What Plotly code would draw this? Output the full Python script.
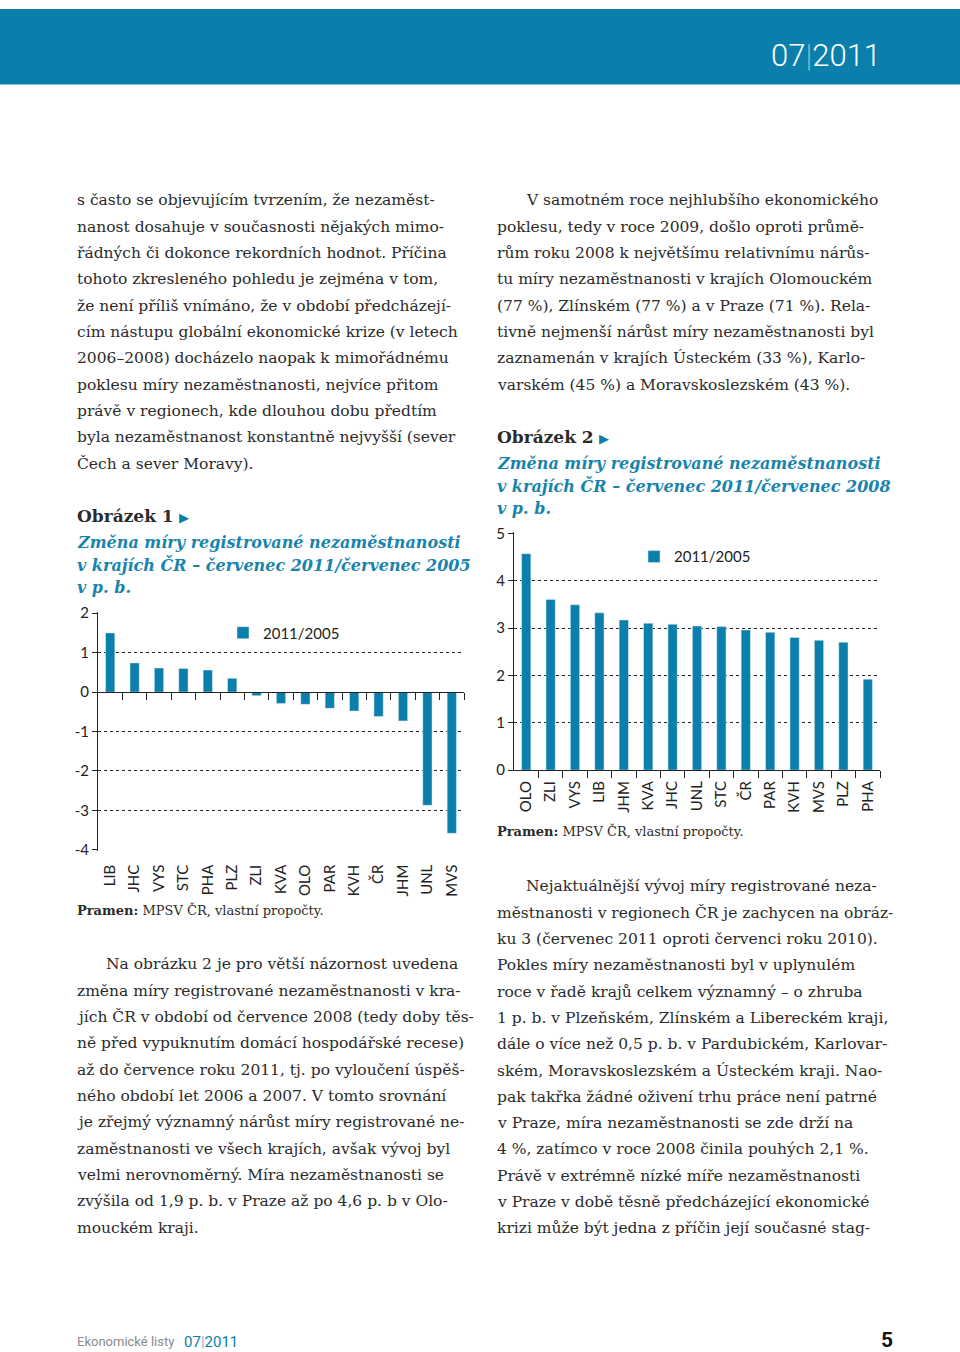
import plotly.graph_objects as go

W, H = 960, 1352

# ---------------- data ----------------
cats1 = ["LIB", "JHC", "VYS", "STC", "PHA", "PLZ", "ZLI", "KVA", "OLO", "PAR", "KVH", "ČR", "JHM", "UNL", "MVS"]
vals1 = [1.50, 0.74, 0.61, 0.60, 0.56, 0.35, -0.09, -0.29, -0.31, -0.41, -0.48, -0.62, -0.73, -2.87, -3.58]
cats2 = ["OLO", "ZLI", "VYS", "LIB", "JHM", "KVA", "JHC", "UNL", "STC", "ČR", "PAR", "KVH", "MVS", "PLZ", "PHA"]
vals2 = [4.57, 3.60, 3.49, 3.32, 3.17, 3.10, 3.08, 3.04, 3.03, 2.96, 2.91, 2.80, 2.74, 2.70, 1.92]
series_name = "2011/2005"
yticks1 = [-4, -3, -2, -1, 0, 1, 2]
yticks2 = [0, 1, 2, 3, 4, 5]

left_par1 = [
    "s často se objevujícím tvrzením, že nezaměst-",
    "nanost dosahuje v současnosti nějakých mimo-",
    "řádných či dokonce rekordních hodnot. Příčina",
    "tohoto zkresleného pohledu je zejména v tom,",
    "že není příliš vnímáno, že v období předcházejí-",
    "cím nástupu globální ekonomické krize (v letech",
    "2006–2008) docházelo naopak k mimořádnému",
    "poklesu míry nezaměstnanosti, nejvíce přitom",
    "právě v regionech, kde dlouhou dobu předtím",
    "byla nezaměstnanost konstantně nejvyšší (sever",
    "Čech a sever Moravy).",
]
left_par2 = [
    "Na obrázku 2 je pro větší názornost uvedena",
    "změna míry registrované nezaměstnanosti v kra-",
    "jích ČR v období od července 2008 (tedy doby těs-",
    "ně před vypuknutím domácí hospodářské recese)",
    "až do července roku 2011, tj. po vyloučení úspěš-",
    "ného období let 2006 a 2007. V tomto srovnání",
    "je zřejmý významný nárůst míry registrované ne-",
    "zaměstnanosti ve všech krajích, avšak vývoj byl",
    "velmi nerovnoměrný. Míra nezaměstnanosti se",
    "zvýšila od 1,9 p. b. v Praze až po 4,6 p. b v Olo-",
    "mouckém kraji.",
]
right_par1 = [
    "V samotném roce nejhlubšího ekonomického",
    "poklesu, tedy v roce 2009, došlo oproti průmě-",
    "rům roku 2008 k největšímu relativnímu nárůs-",
    "tu míry nezaměstnanosti v krajích Olomouckém",
    "(77 %), Zlínském (77 %) a v Praze (71 %). Rela-",
    "tivně nejmenší nárůst míry nezaměstnanosti byl",
    "zaznamenán v krajích Ústeckém (33 %), Karlo-",
    "varském (45 %) a Moravskoslezském (43 %).",
]
right_par2 = [
    "Nejaktuálnější vývoj míry registrované neza-",
    "městnanosti v regionech ČR je zachycen na obráz-",
    "ku 3 (červenec 2011 oproti červenci roku 2010).",
    "Pokles míry nezaměstnanosti byl v uplynulém",
    "roce v řadě krajů celkem významný – o zhruba",
    "1 p. b. v Plzeňském, Zlínském a Libereckém kraji,",
    "dále o více než 0,5 p. b. v Pardubickém, Karlovar-",
    "ském, Moravskoslezském a Ústeckém kraji. Nao-",
    "pak takřka žádné oživení trhu práce není patrné",
    "v Praze, míra nezaměstnanosti se zde drží na",
    "4 %, zatímco v roce 2008 činila pouhých 2,1 %.",
    "Právě v extrémně nízké míře nezaměstnanosti",
    "v Praze v době těsně předcházející ekonomické",
    "krizi může být jedna z příčin její současné stag-",
]
fig1_title = ["Změna míry registrované nezaměstnanosti",
              "v krajích ČR – červenec 2011/červenec 2005", "v p. b."]
fig2_title = ["Změna míry registrované nezaměstnanosti",
              "v krajích ČR – červenec 2011/červenec 2008", "v p. b."]

# ---------------- style ----------------
BLUE = "#0a7fab"
TITLE_BLUE = "#1984ab"
TEXT = "#2b2b2b"
AX = "#222222"
SERIF = "DejaVu Serif"
SANS = "Lato"

# page-capture compensation (vertical offset / scale seen in the rendered page)
Y_OFF, Y_SC = 8.7, 0.9864


def fx(px):
    return px / W


def fy(py):
    return 1 - ((py - Y_OFF) / Y_SC) / H


fig = go.Figure()

# ---------------- charts ----------------
fig.add_trace(go.Bar(x=list(range(len(cats1))), y=vals1, width=0.38, marker_color=BLUE,
                     name=series_name, xaxis="x", yaxis="y", legend="legend", hoverinfo="skip"))
fig.add_trace(go.Bar(x=list(range(len(cats2))), y=vals2, width=0.38, marker_color=BLUE,
                     name=series_name, xaxis="x2", yaxis="y2", legend="legend2", hoverinfo="skip"))
# dummy trace so the zero-line axis of chart 1 exists
fig.add_trace(go.Scatter(x=[None], y=[None], xaxis="x3", yaxis="y", showlegend=False, hoverinfo="skip"))

r1 = [-4.02, 2.02]
d1 = [fy(849.5), fy(611.5)]
zero_pos = d1[0] + (0 - r1[0]) / (r1[1] - r1[0]) * (d1[1] - d1[0])
r2 = [0, 5.02]
d2 = [fy(769), fy(531.5)]

xr = [-0.5, len(cats1) - 0.5]
bounds = [i + 0.5 for i in range(len(cats1))]

common_y = dict(showline=True, linecolor=AX, linewidth=1, ticks="outside", ticklen=5, tickcolor=AX,
                showgrid=True, griddash="dot", gridcolor=AX, gridwidth=1, zeroline=False,
                tickfont=dict(family=SANS, size=15, color=AX), fixedrange=True)

fig.update_layout(
    xaxis=dict(domain=[fx(98), fx(464)], range=xr, anchor="y",
               tickmode="array", tickvals=list(range(len(cats1))), ticktext=cats1, tickangle=-90,
               ticks="outside", ticklen=7, tickcolor="rgba(0,0,0,0)",
               showline=False, showgrid=False, zeroline=False,
               tickfont=dict(family=SANS, size=15, color=AX)),
    xaxis3=dict(overlaying="x", anchor="free", position=zero_pos, range=xr,
                tickmode="array", tickvals=bounds, ticks="outside", ticklen=7, tickcolor=AX,
                showticklabels=False, showline=True, linecolor=AX, linewidth=1,
                showgrid=False, zeroline=False),
    yaxis=dict(domain=d1, range=r1, anchor="x", tickmode="array", tickvals=yticks1,
               ticktext=[str(v) for v in yticks1], **common_y),
    xaxis2=dict(domain=[fx(514), fx(880)], range=xr, anchor="y2",
                tickmode="array", tickvals=list(range(len(cats2))), ticktext=cats2, tickangle=-90,
                ticks="outside", ticklen=4, tickcolor="rgba(0,0,0,0)",
                minor=dict(tickmode="array", tickvals=bounds, ticks="outside", ticklen=7, tickcolor=AX),
                showline=True, linecolor=AX, linewidth=1, showgrid=False, zeroline=False,
                tickfont=dict(family=SANS, size=15, color=AX)),
    yaxis2=dict(domain=d2, range=r2, anchor="x2", tickmode="array", tickvals=yticks2,
                ticktext=[str(v) for v in yticks2], **common_y),
    legend=dict(x=fx(223), y=fy(632), xanchor="left", yanchor="middle", bgcolor="rgba(0,0,0,0)",
                font=dict(family=SANS, size=15, color=AX), itemwidth=30),
    legend2=dict(x=fx(634), y=fy(556), xanchor="left", yanchor="middle", bgcolor="rgba(0,0,0,0)",
                 font=dict(family=SANS, size=15, color=AX), itemwidth=30),
    width=W, height=H, margin=dict(l=0, r=0, t=0, b=0),
    paper_bgcolor="white", plot_bgcolor="white", bargap=0.6,
)

# ---------------- page decoration ----------------
fig.add_shape(type="rect", xref="paper", yref="paper", x0=0, x1=1, y0=fy(84), y1=1,
              fillcolor=BLUE, line_width=0, layer="below")
fig.add_annotation(x=fx(883), y=fy(55), xref="paper", yref="paper", xanchor="right", yanchor="middle",
                   showarrow=False,
                   text="07<span style='color:rgba(255,255,255,0.45)'>|</span>2011",
                   font=dict(family="Roboto", size=31, color="white", weight=300))


def add_line(x, y, text, size=15.5, color=TEXT, family=SERIF):
    fig.add_annotation(x=fx(x), y=fy(y), xref="paper", yref="paper", xanchor="left", yanchor="middle",
                       showarrow=False, text=text, font=dict(family=family, size=size, color=color))


def add_par(x, y0, lines, indent=False, step=26.3):
    for i, ln in enumerate(lines):
        add_line(x + (29 if (indent and i == 0) else 0), y0 + i * step, ln)


add_par(75, 200, left_par1)
add_par(75, 963, left_par2, indent=True)
add_par(495, 200, right_par1, indent=True)
add_par(495, 885, right_par2, indent=True)

tri = "<span style='color:%s;font-size:13px'>▶</span>" % BLUE
add_line(75, 515, "<b>Obrázek 1</b> " + tri, size=17)
add_line(495, 436, "<b>Obrázek 2</b> " + tri, size=17)
for i, t in enumerate(fig1_title):
    add_line(75, 542 + i * 22.5, "<b><i>%s</i></b>" % t, size=16, color=TITLE_BLUE)
for i, t in enumerate(fig2_title):
    add_line(495, 463 + i * 22.5, "<b><i>%s</i></b>" % t, size=16, color=TITLE_BLUE)

src = "<b>Pramen:</b> MPSV ČR, vlastní propočty."
add_line(75, 909, src, size=13)
add_line(495, 830, src, size=13)

# footer
add_line(75, 1340, "Ekonomické listy", size=13, color="#8a8a8a", family="Liberation Sans Narrow, Roboto")
add_line(182, 1340, "07<span style='color:#9ac'>|</span>2011", size=15, color=BLUE,
         family="Roboto")
fig.add_annotation(x=fx(895), y=fy(1338), xref="paper", yref="paper", xanchor="right", yanchor="middle",
                   showarrow=False, text="<b>5</b>", font=dict(family="Roboto", size=21, color="#111"))

post = ("var h=document.documentElement,b=document.body;"
        "h.style.margin='0';h.style.padding='0';h.style.overflow='hidden';"
        "h.style.height='1352px';h.style.width='960px';"
        "h.style.background='linear-gradient(to bottom, %s 0px, %s 40px, #ffffff 40px) no-repeat, #ffffff';"
        "b.style.margin='0';b.style.padding='0';b.style.overflow='hidden';"
        "b.style.height='1352px';b.style.width='960px';b.style.background='transparent';"
        "var d=document.getElementById('{plot_id}');"
        "d.parentElement.style.margin='0';d.parentElement.style.height='1352px';"
        "d.style.position='fixed';d.style.left='0px';d.style.top='0px';d.style.margin='0';") % (BLUE, BLUE)
fig.write_html("out.html", post_script=post, config={"displayModeBar": False})
